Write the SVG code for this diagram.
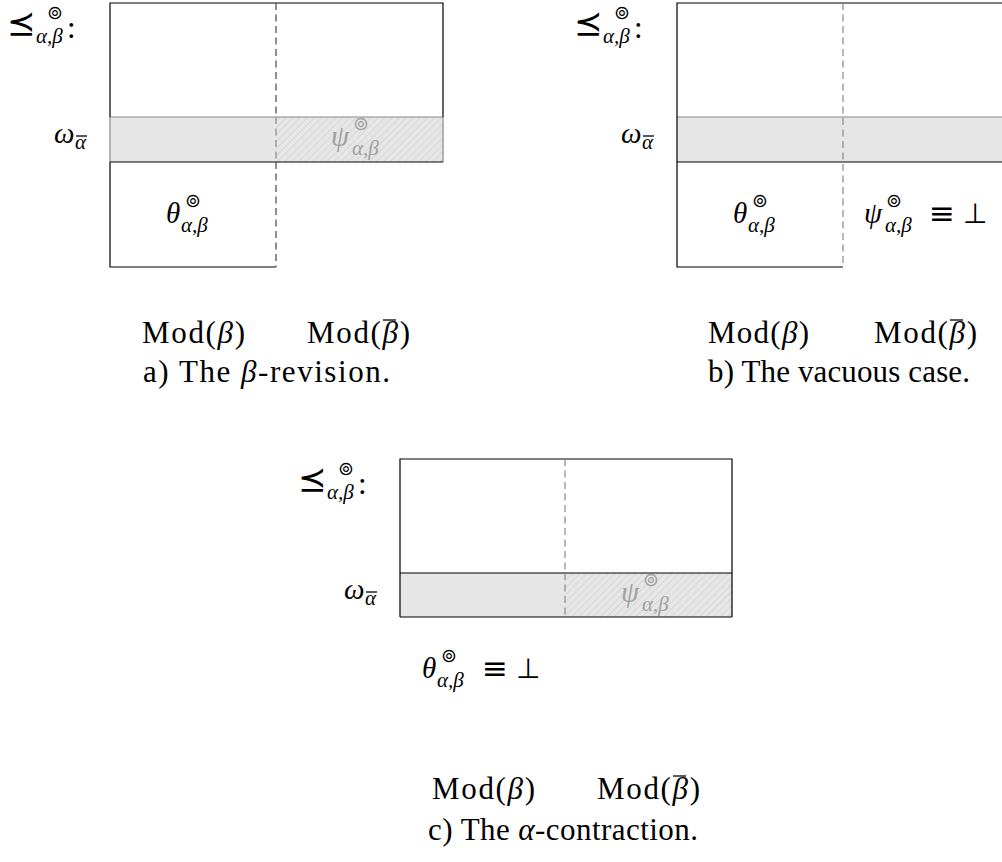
<svg xmlns="http://www.w3.org/2000/svg" width="1002" height="862" viewBox="0 0 1002 862">
<style>
.t{font-family:"Liberation Serif","DejaVu Serif","DejaVu Sans",serif;font-size:31px;fill:#000}
.m{font-family:"Liberation Serif","DejaVu Serif","DejaVu Sans",serif;font-size:29px;font-style:italic;fill:#000}
.i{font-style:italic}
.sym{font-family:"DejaVu Sans","Liberation Serif",sans-serif;font-style:normal}
.sup{font-family:"DejaVu Sans",sans-serif;font-size:19px;font-style:normal}
.sub{font-family:"Liberation Serif","DejaVu Serif",serif;font-style:italic;font-size:21px}
.ln{stroke:#000;stroke-width:1.2;fill:none}
.gl{stroke:#888;stroke-width:1.2;fill:none}
.band{fill:#e6e6e6}
.dash{stroke:#444;stroke-width:1.2;stroke-dasharray:7 4.5;fill:none}
.dash2{stroke:#888;stroke-width:1.2;stroke-dasharray:7 4.5;fill:none}
.grey{fill:#a0a0a0}
.ov{stroke:#000;stroke-width:1.3}
</style>
<defs>
<pattern id="hatch" patternUnits="userSpaceOnUse" width="5" height="5" patternTransform="rotate(45)">
<line x1="0" y1="0" x2="0" y2="5" stroke="#c4c4c4" stroke-width="0.9"/>
</pattern>
</defs>

<!-- Panel a -->
<g id="panel-a">
<rect x="110" y="117" width="333" height="45" class="band"/>
<rect x="276" y="117" width="167" height="45" fill="url(#hatch)"/>
<line x1="110" y1="117" x2="443" y2="117" class="gl"/>
<line x1="110" y1="117" x2="110" y2="162" class="gl"/>
<line x1="443" y1="117" x2="443" y2="162" class="gl"/>
<polyline points="110,117 110,3 443,3 443,117" class="ln"/>
<line x1="110" y1="162" x2="443" y2="162" class="ln"/>
<polyline points="110,162 110,267 276,267" class="ln"/>
<line x1="276" y1="3" x2="276" y2="117" class="dash"/>
<line x1="276" y1="117" x2="276" y2="162" class="dash2"/>
<line x1="276" y1="162" x2="276" y2="267" class="dash"/>
<text id="order-a" class="m" x="7" y="35"><tspan class="sym" font-size="34">⪯</tspan><tspan class="sup" x="47" y="19">⊚</tspan><tspan class="sub" x="36" y="43">α,β</tspan><tspan class="t" font-style="normal" x="67" y="38">:</tspan></text>
<text id="omega-a" class="m" x="54" y="143">ω<tspan class="sub" x="75" y="149">α</tspan></text>
<line x1="76" y1="136" x2="87" y2="136" class="ov"/>
<text id="psi-a" class="m grey" x="331" y="146">ψ<tspan class="sup" x="353" y="130" fill="#a0a0a0">⊚</tspan><tspan class="sub" x="352" y="155" fill="#a0a0a0">α,β</tspan></text>
<text id="theta-a" class="m" x="166" y="223">θ<tspan class="sup" x="185" y="207">⊚</tspan><tspan class="sub" x="181" y="232">α,β</tspan></text>
<text class="t" x="142" y="343" textLength="103" lengthAdjust="spacing">Mod(<tspan class="i">β</tspan>)</text>
<text class="t" x="307" y="343" textLength="103" lengthAdjust="spacing">Mod(<tspan class="i">β</tspan>)</text>
<line x1="383" y1="320" x2="396" y2="320" class="ov"/>
<text class="t" x="143" y="382" textLength="247" lengthAdjust="spacing">a) The <tspan class="i">β</tspan>-revision.</text>
</g>

<!-- Panel b -->
<g id="panel-b">
<rect x="677" y="117" width="340" height="45" class="band"/>
<line x1="677" y1="117" x2="1017" y2="117" class="gl"/>
<polyline points="677,162 677,3 1017,3" class="ln"/>
<line x1="677" y1="162" x2="1017" y2="162" class="ln"/>
<polyline points="677,162 677,267 843,267" class="ln"/>
<line x1="843" y1="3" x2="843" y2="267" class="dash2"/>
<text id="order-b" class="m" x="574" y="35"><tspan class="sym" font-size="34">⪯</tspan><tspan class="sup" x="614" y="19">⊚</tspan><tspan class="sub" x="603" y="43">α,β</tspan><tspan class="t" font-style="normal" x="634" y="38">:</tspan></text>
<text id="omega-b" class="m" x="621" y="143">ω<tspan class="sub" x="642" y="149">α</tspan></text>
<line x1="643" y1="136" x2="654" y2="136" class="ov"/>
<text id="theta-b" class="m" x="733" y="223">θ<tspan class="sup" x="752" y="207">⊚</tspan><tspan class="sub" x="748" y="232">α,β</tspan></text>
<text id="psi-b" class="m" x="864" y="223">ψ<tspan class="sup" x="886" y="207">⊚</tspan><tspan class="sub" x="885" y="232">α,β</tspan><tspan class="sym" font-size="31" x="929" y="224">≡</tspan><tspan class="sym" font-size="28" x="963" y="223">⊥</tspan></text>
<text class="t" x="708" y="343" textLength="101" lengthAdjust="spacing">Mod(<tspan class="i">β</tspan>)</text>
<text class="t" x="874" y="343" textLength="103" lengthAdjust="spacing">Mod(<tspan class="i">β</tspan>)</text>
<line x1="950" y1="320" x2="963" y2="320" class="ov"/>
<text class="t" x="708" y="382" textLength="262" lengthAdjust="spacing">b) The vacuous case.</text>
</g>

<!-- Panel c -->
<g id="panel-c">
<rect x="400" y="573" width="332" height="44" class="band"/>
<rect x="565" y="573" width="167" height="44" fill="url(#hatch)"/>
<polyline points="400,617 400,459 732,459 732,617" class="ln"/>
<line x1="400" y1="573" x2="732" y2="573" class="ln"/>
<line x1="400" y1="617" x2="732" y2="617" class="ln"/>
<line x1="565" y1="459" x2="565" y2="573" class="dash2"/>
<line x1="565" y1="573" x2="565" y2="617" class="dash2"/>
<text id="order-c" class="m" x="298" y="491"><tspan class="sym" font-size="34">⪯</tspan><tspan class="sup" x="338" y="475">⊚</tspan><tspan class="sub" x="327" y="499">α,β</tspan><tspan class="t" font-style="normal" x="358" y="494">:</tspan></text>
<text id="omega-c" class="m" x="344" y="599">ω<tspan class="sub" x="365" y="605">α</tspan></text>
<line x1="366" y1="592" x2="377" y2="592" class="ov"/>
<text id="psi-c" class="m grey" x="621" y="602">ψ<tspan class="sup" x="643" y="586" fill="#a0a0a0">⊚</tspan><tspan class="sub" x="642" y="611" fill="#a0a0a0">α,β</tspan></text>
<text id="theta-c" class="m" x="422" y="678">θ<tspan class="sup" x="441" y="662">⊚</tspan><tspan class="sub" x="437" y="687">α,β</tspan><tspan class="sym" font-size="31" x="482" y="679">≡</tspan><tspan class="sym" font-size="28" x="516" y="678">⊥</tspan></text>
<text class="t" x="432" y="799" textLength="103" lengthAdjust="spacing">Mod(<tspan class="i">β</tspan>)</text>
<text class="t" x="597" y="799" textLength="103" lengthAdjust="spacing">Mod(<tspan class="i">β</tspan>)</text>
<line x1="673" y1="776" x2="686" y2="776" class="ov"/>
<text class="t" x="428" y="840" textLength="270" lengthAdjust="spacing">c) The <tspan class="i">α</tspan>-contraction.</text>
</g>
</svg>
